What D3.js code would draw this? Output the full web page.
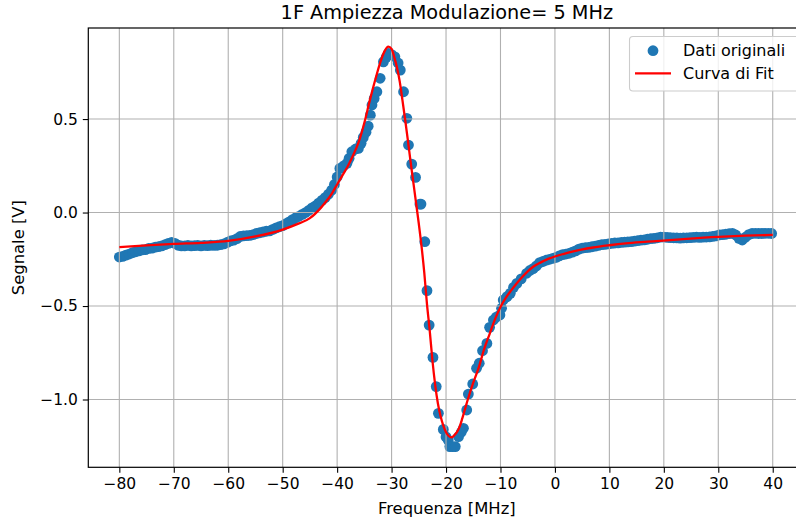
<!DOCTYPE html>
<html>
<head>
<meta charset="utf-8">
<script src="https://cdn.jsdelivr.net/npm/d3@7"></script>
<style>
  html, body { margin: 0; padding: 0; background: #fff; }
  svg { display: block; font-family: "DejaVu Sans", sans-serif; }
</style>
</head>
<body>
<svg id="chart" width="796" height="525"></svg>
<script>
// Measured signal: frequency [MHz] and amplitude [V]
const dataFreq = [
  -80.0, -79.4, -78.8, -78.2, -77.6, -77.0, -76.4, -75.8, -75.2, -74.6,
  -74.0, -73.4, -72.8, -72.2, -71.6, -71.0, -70.4, -69.8, -69.2, -68.6,
  -68.0, -67.4, -66.8, -66.2, -65.6, -65.0, -64.4, -63.8, -63.2, -62.6,
  -62.0, -61.4, -60.8, -60.2, -59.6, -59.0, -58.4, -57.8, -57.2, -56.6,
  -56.0, -55.4, -54.8, -54.2, -53.6, -53.0, -52.4, -51.8, -51.2, -50.6,
  -50.0, -49.4, -48.8, -48.2, -47.6, -47.0, -46.4, -45.8, -45.2, -44.6,
  -44.0, -43.4, -42.8, -42.2, -41.6, -41.0, -40.5,
  -40.0, -39.5, -38.8, -38.2, -37.8, -37.3, -36.6, -36.1, -35.6, -35.2,
  -34.7, -34.3, -33.9, -33.6, -33.2, -32.7, -32.1, -31.5, -31.0, -30.6,
  -30.0, -29.4, -28.8, -28.4, -27.8, -27.2, -26.9, -26.3, -25.6, -24.8,
  -24.6, -23.9, -23.5, -23.1, -22.4, -21.8, -21.4, -20.5, -20.0, -19.6,
  -19.3, -18.8, -18.3, -17.7, -17.2, -16.8, -16.2, -15.9, -15.1, -14.4,
  -13.9, -13.3, -12.5, -12.0, -11.3, -10.8, -10.1, -9.8, -9.5, -8.8,
  -8.2, -7.6, -7.0, -6.2, -5.2,
  -4.6, -4.0, -3.4, -2.8, -2.2, -1.6, -1.0, -0.4, 0.2, 0.8,
  1.4, 2.0, 2.6, 3.2, 3.8, 4.4, 5.0, 5.6, 6.2, 6.8,
  7.4, 8.0, 8.6, 9.2, 9.8, 10.4, 11.0, 11.6, 12.2, 12.8,
  13.4, 14.0, 14.6, 15.2, 15.8, 16.4, 17.0, 17.6, 18.2, 18.8,
  19.4, 20.0, 20.6, 21.2, 21.8, 22.4, 23.0, 23.6, 24.2, 24.8,
  25.4, 26.0, 26.6, 27.2, 27.8, 28.4, 29.0, 29.6, 30.2, 30.8,
  31.4, 32.0, 32.6, 33.2, 33.8, 34.4, 35.0, 35.6, 36.2, 36.8,
  37.4, 38.0, 38.6, 39.2, 39.8
];
const dataSignal = [
  -0.238, -0.235, -0.228, -0.222, -0.215, -0.210, -0.205, -0.200, -0.198, -0.192,
  -0.190, -0.185, -0.182, -0.178, -0.172, -0.165, -0.160, -0.165, -0.175, -0.178,
  -0.178, -0.176, -0.178, -0.177, -0.176, -0.178, -0.176, -0.177, -0.175, -0.176,
  -0.175, -0.172, -0.168, -0.160, -0.152, -0.148, -0.140, -0.128, -0.125, -0.124,
  -0.122, -0.118, -0.112, -0.108, -0.104, -0.100, -0.098, -0.090, -0.082, -0.076,
  -0.070, -0.060, -0.050, -0.038, -0.028, -0.020, -0.010, 0.000, 0.012, 0.025,
  0.035, 0.050, 0.065, 0.080, 0.098, 0.120, 0.150,
  0.190, 0.236, 0.250, 0.263, 0.290, 0.325, 0.340, 0.343, 0.370, 0.402,
  0.430, 0.462, 0.521, 0.575, 0.610, 0.646, 0.718, 0.806, 0.830, 0.851,
  0.845, 0.833, 0.800, 0.762, 0.646, 0.504, 0.361, 0.259, 0.188, 0.045,
  0.045, -0.156, -0.418, -0.602, -0.775, -0.931, -1.074, -1.160, -1.200, -1.217,
  -1.252, -1.252, -1.252, -1.199, -1.175, -1.154, -1.056, -0.971, -0.917, -0.833,
  -0.806, -0.739, -0.700, -0.614, -0.575, -0.560, -0.548, -0.512, -0.468, -0.450,
  -0.432, -0.400, -0.379, -0.355, -0.325,
  -0.310, -0.300, -0.285, -0.268, -0.262, -0.255, -0.250, -0.245, -0.240, -0.232,
  -0.225, -0.222, -0.218, -0.212, -0.205, -0.196, -0.190, -0.188, -0.186, -0.183,
  -0.180, -0.176, -0.172, -0.170, -0.168, -0.165, -0.163, -0.162, -0.160, -0.158,
  -0.157, -0.156, -0.153, -0.150, -0.148, -0.146, -0.143, -0.140, -0.138, -0.135,
  -0.132, -0.131, -0.133, -0.134, -0.135, -0.136, -0.137, -0.136, -0.135, -0.134,
  -0.133, -0.132, -0.133, -0.132, -0.131, -0.130, -0.128, -0.125, -0.120, -0.118,
  -0.116, -0.113, -0.111, -0.120, -0.138, -0.147, -0.132, -0.118, -0.112, -0.111,
  -0.112, -0.112, -0.111, -0.111, -0.112
];

// Fitted curve samples
const fitFreq = [
  -80, -75, -70, -65, -60, -55, -50, -47, -45, -43,
  -42, -41, -40, -39, -38, -37, -36, -35, -34, -33,
  -32, -31.3, -30.6, -30, -29.5, -29, -28.5, -28, -27.5, -27,
  -26.5, -26, -25.5, -25, -24.5, -24, -23.5, -23, -22.5, -22,
  -21.5, -21, -20.5, -20, -19.5, -19, -18.5, -18, -17.5, -17,
  -16, -15, -14, -13, -12, -11, -10, -9, -8, -7,
  -6, -5, -4, -3, -2, -1, 0, 1.5, 3, 4.6,
  7, 10, 13, 17, 23, 30, 35, 40
];
const fitSignal = [
  -0.185, -0.176, -0.168, -0.162, -0.152, -0.128, -0.091, -0.058, -0.030, 0.025,
  0.060, 0.100, 0.150, 0.200, 0.250, 0.310, 0.380, 0.480, 0.600, 0.710,
  0.810, 0.862, 0.887, 0.875, 0.830, 0.775, 0.700, 0.600, 0.495, 0.385,
  0.270, 0.160, 0.050, -0.060, -0.180, -0.320, -0.490, -0.630, -0.790, -0.920,
  -1.020, -1.090, -1.140, -1.175, -1.195, -1.203, -1.192, -1.175, -1.145, -1.100,
  -1.000, -0.910, -0.830, -0.730, -0.650, -0.570, -0.505, -0.455, -0.415, -0.378,
  -0.345, -0.315, -0.290, -0.272, -0.258, -0.245, -0.235, -0.222, -0.210, -0.200,
  -0.187, -0.175, -0.165, -0.156, -0.143, -0.130, -0.124, -0.120
];

const xTicks = [-80, -70, -60, -50, -40, -30, -20, -10, 0, 10, 20, 30, 40];
const yTicks = [-1.0, -0.5, 0.0, 0.5];

const titleText = "1F Ampiezza Modulazione= 5 MHz";
const xLabelText = "Frequenza [MHz]";
const yLabelText = "Segnale [V]";
const legendLabels = ["Dati originali", "Curva di Fit"];

const svg = d3.select("#chart");
const plot = { left: 88.3, top: 28, right: 805.4, bottom: 467.3 };
const dotR = 5.4;

const x = d3.scaleLinear().domain([-85.7, 46]).range([plot.left, plot.right]);
const y = d3.scaleLinear().domain([-1.3626, 0.987]).range([plot.bottom, plot.top]);

const fmt = d => (d < 0 ? "\u2212" : "") + Math.abs(d).toString();
const fmtY = d => (d < 0 ? "\u2212" : "") + Math.abs(d).toFixed(1);

svg.append("defs").append("clipPath").attr("id", "clip")
  .append("rect")
  .attr("x", plot.left).attr("y", plot.top)
  .attr("width", plot.right - plot.left).attr("height", plot.bottom - plot.top);

// Scatter of measured points (drawn below the grid)
svg.append("g").attr("clip-path", "url(#clip)")
  .selectAll("circle")
  .data(dataFreq.map((f, i) => [f, dataSignal[i]]))
  .join("circle")
  .attr("cx", d => x(d[0]))
  .attr("cy", d => y(d[1]))
  .attr("r", dotR)
  .attr("fill", "#1f77b4");

// Grid
const grid = svg.append("g").attr("stroke", "#b0b0b0").attr("stroke-width", 1.1);
grid.selectAll("line.gx").data(xTicks).join("line")
  .attr("x1", d => x(d)).attr("x2", d => x(d))
  .attr("y1", plot.top).attr("y2", plot.bottom);
grid.selectAll("line.gy").data(yTicks).join("line")
  .attr("y1", d => y(d)).attr("y2", d => y(d))
  .attr("x1", plot.left).attr("x2", plot.right);

// Fit curve
const line = d3.line().x(d => x(d[0])).y(d => y(d[1])).curve(d3.curveMonotoneX);
svg.append("path")
  .datum(fitFreq.map((f, i) => [f, fitSignal[i]]))
  .attr("clip-path", "url(#clip)")
  .attr("d", line)
  .attr("fill", "none")
  .attr("stroke", "#ff0000")
  .attr("stroke-width", 2.3)
  .attr("stroke-linejoin", "round");

// Axes
const xAxis = d3.axisBottom(x).tickValues(xTicks).tickFormat(fmt).tickSize(5.5).tickPadding(5);
const yAxis = d3.axisLeft(y).tickValues(yTicks).tickFormat(fmtY).tickSize(5.5).tickPadding(5);

const gx = svg.append("g").attr("transform", `translate(0,${plot.bottom})`).call(xAxis);
const gy = svg.append("g").attr("transform", `translate(${plot.left},0)`).call(yAxis);
[gx, gy].forEach(g => {
  g.select(".domain").remove();
  g.selectAll(".tick line").attr("stroke", "#000").attr("stroke-width", 1.1);
  g.selectAll(".tick text").attr("fill", "#000").style("font-size", "15.5px")
    .style("font-family", "DejaVu Sans");
});

// Frame
svg.append("rect")
  .attr("x", plot.left).attr("y", plot.top)
  .attr("width", plot.right - plot.left).attr("height", plot.bottom - plot.top)
  .attr("fill", "none").attr("stroke", "#000").attr("stroke-width", 1.2);

// Title and labels
svg.append("text")
  .attr("x", (plot.left + plot.right) / 2).attr("y", 19)
  .attr("text-anchor", "middle").style("font-size", "19.3px")
  .text(titleText);
svg.append("text")
  .attr("x", (plot.left + plot.right) / 2).attr("y", 514)
  .attr("text-anchor", "middle").style("font-size", "16.4px")
  .text(xLabelText);
svg.append("text")
  .attr("transform", `translate(24,${(plot.top + plot.bottom) / 2}) rotate(-90)`)
  .attr("text-anchor", "middle").style("font-size", "16.4px")
  .text(yLabelText);

// Legend
const lg = svg.append("g");
lg.append("rect")
  .attr("x", 629.5).attr("y", 36.5).attr("width", 170).attr("height", 54.5)
  .attr("rx", 3.5).attr("fill", "rgba(255,255,255,0.8)")
  .attr("stroke", "#cccccc").attr("stroke-width", 1.1);
lg.append("circle").attr("cx", 653).attr("cy", 50.7).attr("r", dotR).attr("fill", "#1f77b4");
lg.append("line").attr("x1", 635).attr("x2", 671).attr("y1", 73.3).attr("y2", 73.3)
  .attr("stroke", "#ff0000").attr("stroke-width", 2.3);
lg.selectAll("text.lab").data(legendLabels).join("text")
  .attr("x", 683).attr("y", (d, i) => 56.3 + i * 22.6)
  .style("font-size", "16px")
  .text(d => d);
</script>
</body>
</html>
